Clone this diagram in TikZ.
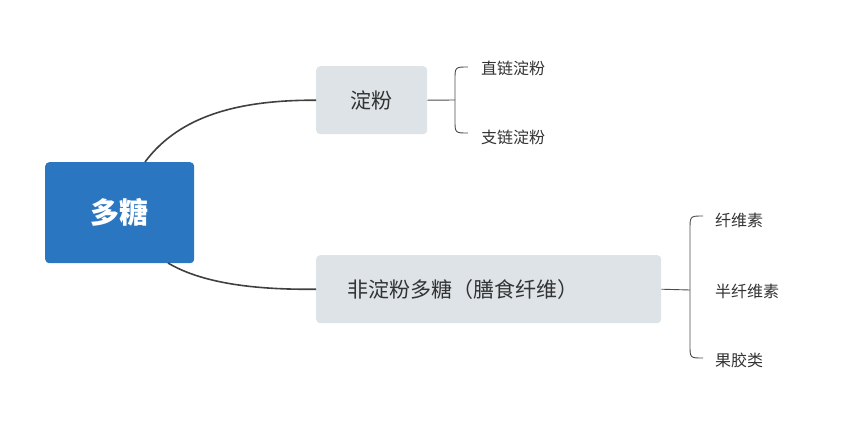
\documentclass[tikz,border=0pt]{standalone}
\usepackage{fontspec}
\setmainfont{Noto Sans CJK SC}
\begin{document}
\begin{tikzpicture}[x=1pt,y=-1pt,
 box/.style={fill=#1,rounded corners=4pt,inner sep=0pt,anchor=north west},
 lbl/.style={text=black!80,font=\fontsize{16}{18}\selectfont,anchor=west,inner sep=0pt},
 conn/.style={draw=black!75,line width=1.6pt},
 br/.style={draw=black!70,line width=0.9pt}]
\useasboundingbox (0,0) rectangle (852,424);
\definecolor{rootc}{HTML}{2B76C0}
\definecolor{boxc}{HTML}{DDE3E6}
\node[box=rootc,minimum width=149pt,minimum height=101pt] (root) at (45,162) {};
\node[text=white,font=\bfseries\fontsize{29}{32}\selectfont] at (root.center) {多糖};
\node[box=boxc,minimum width=111pt,minimum height=68pt] (st) at (316,66) {};
\node[text=black!80,font=\fontsize{21}{24}\selectfont] at (st.center) {淀粉};
\node[box=boxc,minimum width=345pt,minimum height=68pt] (ns) at (316,255) {};
\node[text=black!80,font=\fontsize{21}{24}\selectfont,anchor=west] at ([xshift=28pt]ns.west) {非淀粉多糖（膳食纤维）};
\coordinate (r1) at (145,162);
\coordinate (r2) at (168,263);
\draw[conn] (r1) .. controls (180,115) and (240,100) .. (st.west);
\draw[conn] (r2) .. controls (200,282) and (250,290) .. (ns.west);
% starch brace
\coordinate (b1) at (455,100);
\draw[br] (st.east) -- (b1);
\draw[br] (468,67) .. controls (455,67) .. (455,80) -- (455,120) .. controls (455,133) .. (468,133);
\node[lbl] (a1) at (481,68) {直链淀粉};
\node[lbl] (a2) at (481,137) {支链淀粉};
% non-starch brace
\coordinate (b2) at (690,290);
\draw[br] (ns.east) -- (b2);
\draw[br] (703,216) .. controls (690,216) .. (690,230) -- (690,345) .. controls (690,358) .. (703,358);
\node[lbl] (c1) at (715,220) {纤维素};
\node[lbl] (c2) at (715,291) {半纤维素};
\node[lbl] (c3) at (715,360) {果胶类};
\end{tikzpicture}
\end{document}
